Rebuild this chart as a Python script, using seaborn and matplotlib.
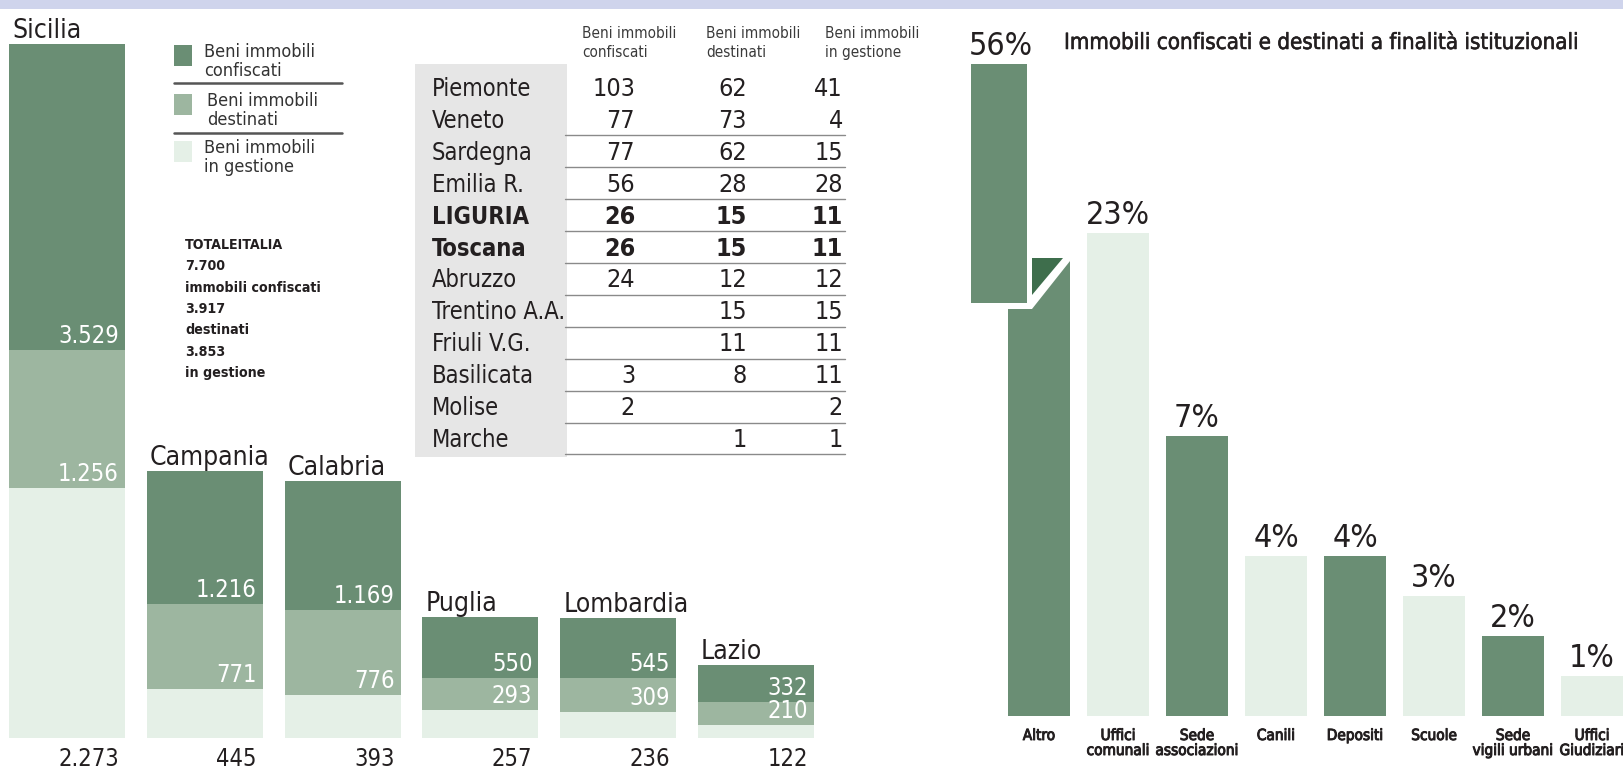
import numpy as np
import pandas as pd
import matplotlib
matplotlib.use("Agg")
import matplotlib.pyplot as plt
import matplotlib.patheffects as pe
from matplotlib.patches import Rectangle, Polygon
import seaborn as sns

# left chart: stacked bars per region
regions = ["Sicilia", "Campania", "Calabria", "Puglia", "Lombardia", "Lazio"]
confiscati = [3529, 1216, 1169, 550, 545, 332]
destinati = [1256, 771, 776, 293, 309, 210]
in_gestione = [2273, 445, 393, 257, 236, 122]

legend_labels = ["Beni immobili\nconfiscati", "Beni immobili\ndestinati", "Beni immobili\nin gestione"]
totale_lines = ["TOTALEITALIA", "7.700", "immobili confiscati", "3.917", "destinati", "3.853", "in gestione"]

# table
table_headers = ["Beni immobili\nconfiscati", "Beni immobili\ndestinati", "Beni immobili\nin gestione"]
table_regions = ["Piemonte", "Veneto", "Sardegna", "Emilia R.", "LIGURIA", "Toscana", "Abruzzo",
                 "Trentino A.A.", "Friuli V.G.", "Basilicata", "Molise", "Marche"]
table_conf = [103, 77, 77, 56, 26, 26, 24, None, None, 3, 2, None]
table_dest = [62, 73, 62, 28, 15, 15, 12, 15, 11, 8, None, 1]
table_gest = [41, 4, 15, 28, 11, 11, 12, 15, 11, 11, 2, 1]
bold_rows = ["LIGURIA", "Toscana"]

# right chart
title = "Immobili confiscati e destinati a finalità istituzionali"
uses = ["Altro", "Uffici\ncomunali", "Sede\nassociazioni", "Canili", "Depositi",
        "Scuole", "Sede\nvigili urbani", "Uffici\nGiudiziari"]
use_pct = [56, 23, 7, 4, 4, 3, 2, 1]

DARK = "#6a8e74"
MED = "#9db6a0"
LIGHT = "#e5f0e7"
TRI = "#3e6e4c"
BAND = "#cfd4ec"
GRAY = "#e6e6e6"
INK = "#231f20"

sns.set_style("white")
plt.rcParams["font.family"] = ["DejaVu Sans"]
plt.rcParams["font.stretch"] = "condensed"

heavy = [pe.withStroke(linewidth=0.7, foreground=INK)]


def fmt(v):
    return f"{v:,}".replace(",", ".")


W, H = 1623, 768
fig = plt.figure(figsize=(W / 100, H / 100), dpi=100)


def px_box(x0, y0, x1, y1):
    return [x0 / W, 1 - y1 / H, (x1 - x0) / W, (y1 - y0) / H]


# --- stacked bars ---
df = pd.DataFrame({"region": regions, "conf": confiscati, "dest": destinati, "gest": in_gestione})
df["mid"] = df["dest"] + df["gest"]
df["top"] = df["conf"] + df["mid"]

axL = fig.add_axes(px_box(0, 44, 825, 738))
bw = 0.842
for col, c in [("top", DARK), ("mid", MED), ("gest", LIGHT)]:
    sns.barplot(data=df, x="region", y=col, color=c, width=bw, saturation=1,
                errorbar=None, linewidth=0, ax=axL)
ymax = 6315
axL.set_xlim(-0.486, 5.5)
axL.set_ylim(0, ymax)
axL.axis("off")

for i, r in df.iterrows():
    right = i + bw / 2
    left = i - bw / 2
    axL.annotate(fmt(r.conf), (right, r.mid), xytext=(-6, 7), textcoords="offset pixels",
                 ha="right", va="baseline", color="white", fontsize=17, annotation_clip=False)
    axL.annotate(fmt(r.dest), (right, r.gest), xytext=(-6, 7), textcoords="offset pixels",
                 ha="right", va="baseline", color="white", fontsize=17, annotation_clip=False)
    axL.annotate(fmt(r.gest), (right, 0), xytext=(-6, -28), textcoords="offset pixels",
                 ha="right", va="baseline", color=INK, fontsize=17, annotation_clip=False)
    axL.annotate(r.region, (left, min(r.top, ymax)), xytext=(3, 6), textcoords="offset pixels",
                 ha="left", va="baseline", color=INK, fontsize=19, annotation_clip=False)

# --- percentage bars ---
def fwd(v):
    return np.interp(v, [-100, 0, 7, 23, 56, 300], [-100, 0, 7, 12.07, 16.3, 40])


def inv(t):
    return np.interp(t, [-100, 0, 7, 12.07, 16.3, 40], [-100, 0, 7, 23, 56, 300])


dfr = pd.DataFrame({"use": uses, "pct": use_pct})
pal = [DARK if i % 2 == 0 else LIGHT for i in range(len(uses))]
axR = fig.add_axes(px_box(999.5, 64, 1623, 716))
sns.barplot(data=dfr, x="use", y="pct", hue="use", palette=pal, legend=False, width=0.785,
            saturation=1, errorbar=None, linewidth=0, ax=axR)
axR.set_yscale("function", functions=(fwd, inv))
axR.set_ylim(0, 56)
axR.set_xlim(-0.5, 7.392)
axR.axis("off")

for i, r in dfr.iterrows():
    xl = i - 0.48 if i == 0 else i
    axR.annotate(f"{r.pct}%", (xl, r.pct), xytext=(0, 9), textcoords="offset pixels",
                 ha="center", va="baseline", color=INK, fontsize=23, annotation_clip=False)
    axR.annotate(r.use, (i, 0), xytext=(0, -12), textcoords="offset pixels",
                 ha="center", va="top", color=INK, fontsize=11, linespacing=1.0,
                 path_effects=heavy, annotation_clip=False)

# --- overlay in pixel coordinates ---
ov = fig.add_axes([0, 0, 1, 1])
ov.set_xlim(0, W)
ov.set_ylim(H, 0)
ov.axis("off")

ov.add_patch(Rectangle((0, 0), W, 9, color=BAND, lw=0))

# broken "Altro" bar
ov.add_patch(Polygon([(1004, 55), (1074, 55), (1074, 256), (1032, 309), (1004, 309)],
                     closed=True, color="white", lw=0))
ov.add_patch(Rectangle((971, 64), 56, 239, color=DARK, lw=0))
ov.add_patch(Polygon([(1032, 258), (1063, 258), (1032, 295)], closed=True, color=TRI, lw=0))

ov.text(1064, 43, title, ha="left", va="center", fontsize=16, color=INK,
        path_effects=[pe.withStroke(linewidth=0.4, foreground=INK)])

# legend
for k, (lab, c, y) in enumerate(zip(legend_labels, [DARK, MED, LIGHT], [45, 94, 141])):
    ov.add_patch(Rectangle((174, y), 18, 21, color=c, lw=0))
    ov.text(204 + (3 if k == 1 else 0), y - 2, lab, ha="left", va="top", fontsize=13,
            color="#333333", linespacing=1.1)
for y in [83, 133]:
    ov.plot([174, 342], [y, y], color="#555555", lw=1.8)

for k, line in enumerate(totale_lines):
    ov.text(185, 245 + 21.3 * k, line, ha="left", va="center", fontsize=10.2,
            fontweight="bold", color=INK)

# table
ov.add_patch(Rectangle((415, 64), 152, 393, color=GRAY, lw=0))
col_x = [635, 747, 843]
for hx, hd in zip([582, 706, 825], table_headers):
    ov.text(hx, 43, hd, ha="left", va="center", fontsize=11, color="#3a3a3a",
            linespacing=1.3)
for i, name in enumerate(table_regions):
    y = 89 + 31.9 * i
    w = "bold" if name in bold_rows else "normal"
    ov.text(432, y, name, ha="left", va="center", fontsize=17, fontweight=w, color=INK)
    for cx, vals in zip(col_x, [table_conf, table_dest, table_gest]):
        if vals[i] is not None:
            ov.text(cx, y, str(vals[i]), ha="right", va="center", fontsize=18,
                    fontweight=w, color=INK)
    if i > 0:
        ov.plot([565, 845], [y + 14.5, y + 14.5], color="#8a8a8a", lw=1)

fig.savefig("out.png", dpi=100)
